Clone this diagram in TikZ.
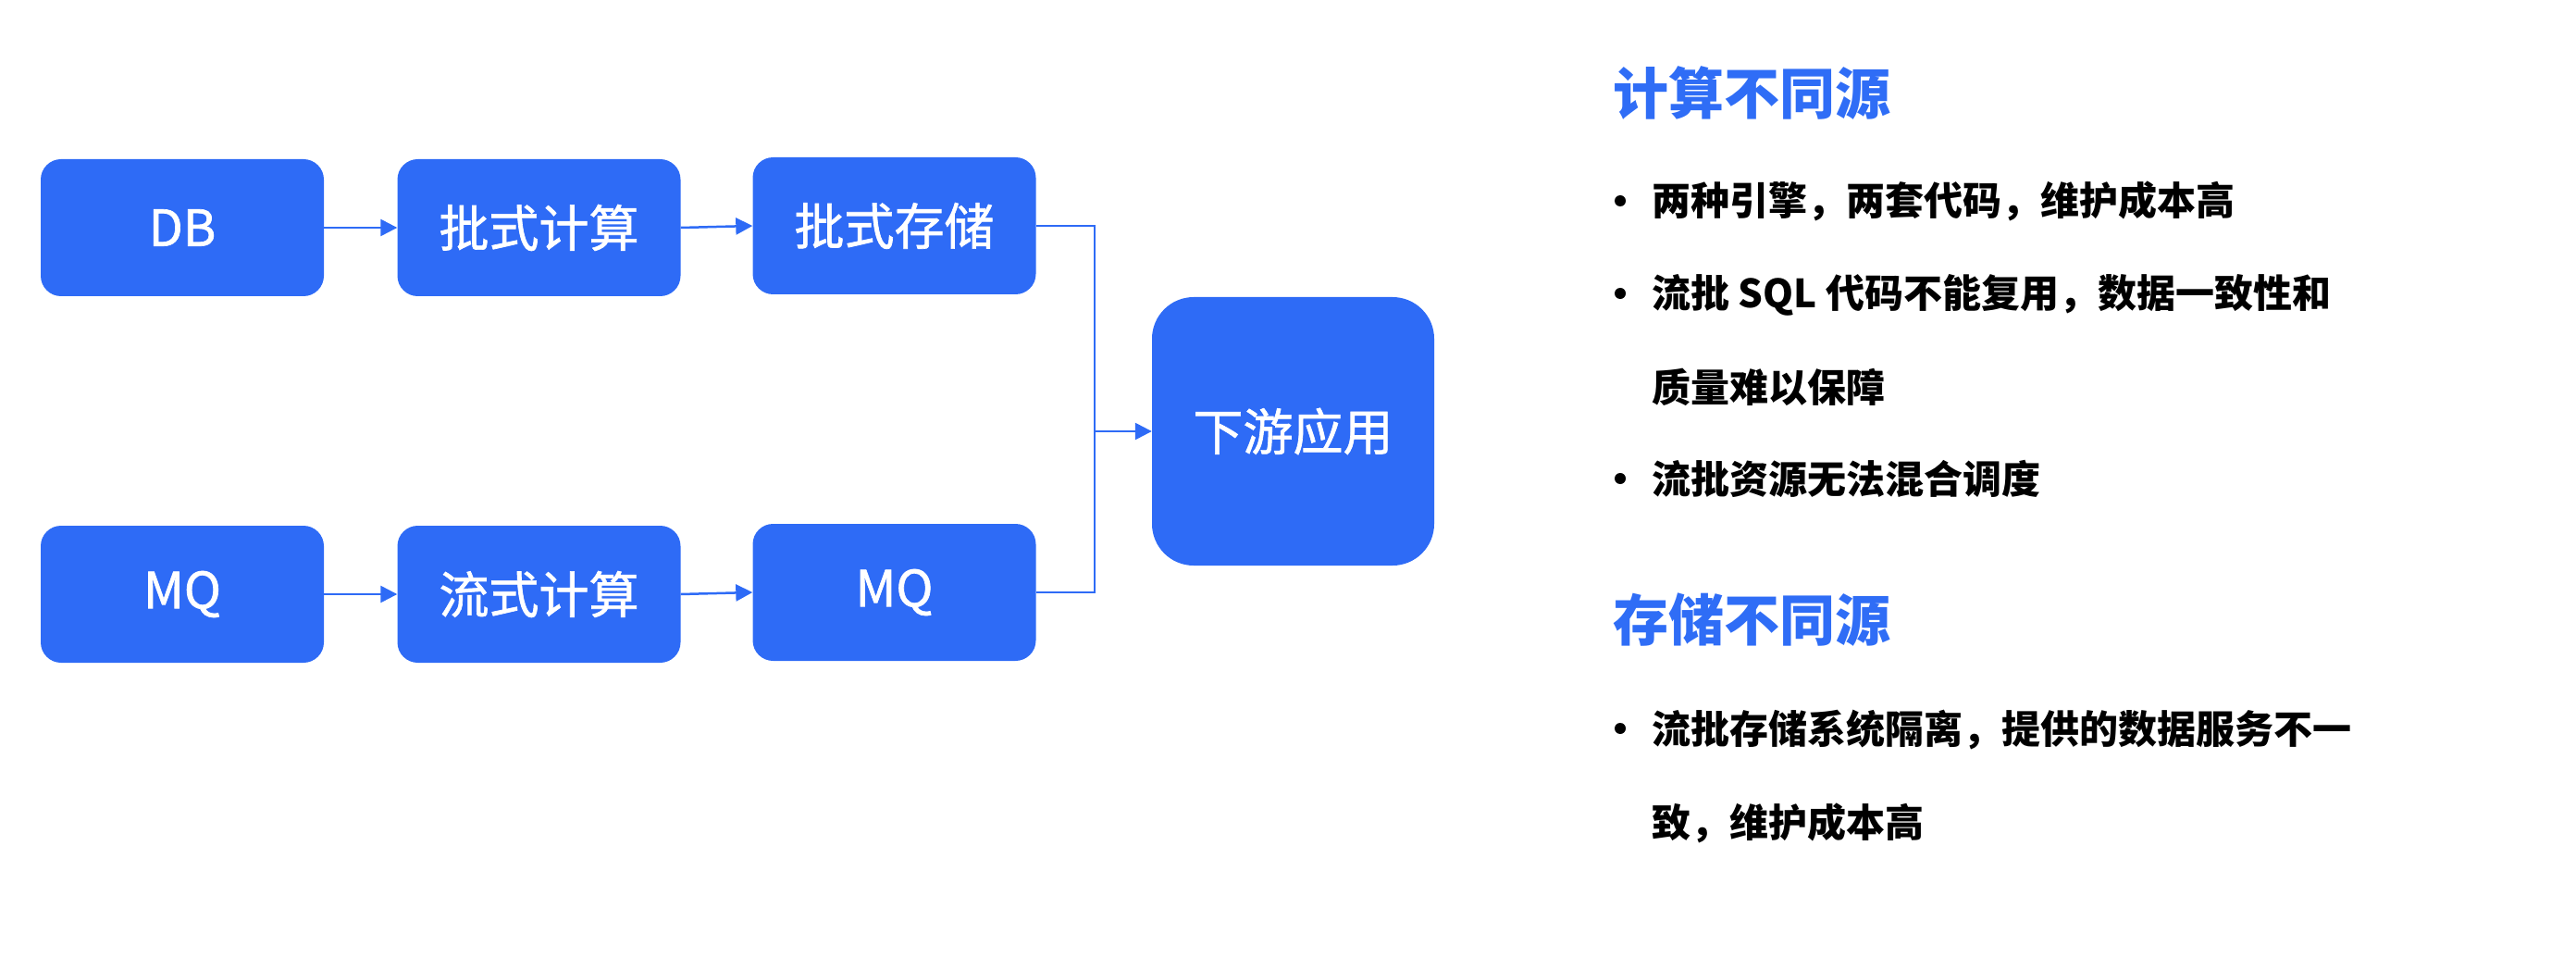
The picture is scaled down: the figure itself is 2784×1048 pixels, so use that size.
\documentclass[tikz,border=0pt]{standalone}
\usepackage{fontspec}
\setmainfont{Noto Sans CJK SC}
\newfontfamily\cjkmed{Noto Sans CJK SC}[FakeBold=1.2]
\usetikzlibrary{arrows.meta}
\definecolor{boxblue}{HTML}{2E6BF6}
\definecolor{headblue}{HTML}{2F6DF6}
\tikzset{
  blk/.style={fill=boxblue, draw=none, rounded corners=22pt, minimum width=306pt, minimum height=148pt, inner sep=0pt, text=white, font=\cjkmed\fontsize{54}{60}\selectfont},
  bigblk/.style={blk, rounded corners=45pt, minimum width=305pt, minimum height=290pt},
  conn/.style={draw=boxblue, line width=2.5pt},
  arr/.style={conn, -{Triangle[length=18pt,width=18pt]}},
  head/.style={anchor=base west, inner sep=0pt, text=headblue, font=\bfseries\fontsize{60}{70}\selectfont},
  item/.style={anchor=base west, inner sep=0pt, text=black, font=\bfseries\fontsize{42}{50}\selectfont},
  dot/.style={circle, fill=black, inner sep=0pt, minimum size=12pt}
}
\begin{document}
\begin{tikzpicture}[x=1pt,y=-1pt]
\useasboundingbox (0,0) rectangle (2784,1048);
\node[blk] (db) at (197,246) {DB};
\node[blk] (bc) at (582.5,246) {批式计算};
\node[blk] (bs) at (966.5,244) {批式存储};
\node[blk] (mq1) at (197,642) {MQ};
\node[blk] (sc) at (582.5,642) {流式计算};
\node[blk] (mq2) at (966.5,640) {MQ};
\node[bigblk] (app) at (1397.5,466) {下游应用};
\draw[arr] (db.east) -- (bc.west);
\draw[arr] (bc.east) -- (bs.west);
\draw[arr] (mq1.east) -- (sc.west);
\draw[arr] (sc.east) -- (mq2.west);
\coordinate (j1) at (1183,244);
\coordinate (j2) at (1183,640);
\coordinate (jm) at (1183,466);
\draw[conn] (bs.east) -- (j1) -- (j2) -- (mq2.east);
\draw[arr] (jm) -- (app.west);
% right text
\node[head] (h1) at (1743,124) {计算不同源};
\node[dot] (d1) at (1751,217) {};
\node[item] (t1) at (1785,233) {两种引擎，两套代码，维护成本高};
\node[dot] (d2) at (1751,317) {};
\node[item] (t2) at (1785,333) {流批 SQL 代码不能复用，数据一致性和};
\node[item] (t3) at (1785,434) {质量难以保障};
\node[dot] (d4) at (1751,517) {};
\node[item] (t4) at (1785,533) {流批资源无法混合调度};
\node[head] (h2) at (1743,692) {存储不同源};
\node[dot] (d5) at (1751,787) {};
\node[item] (t5) at (1785,803) {流批存储系统隔离，提供的数据服务不一};
\node[item] (t6) at (1785,904) {致，维护成本高};
\end{tikzpicture}
\end{document}
